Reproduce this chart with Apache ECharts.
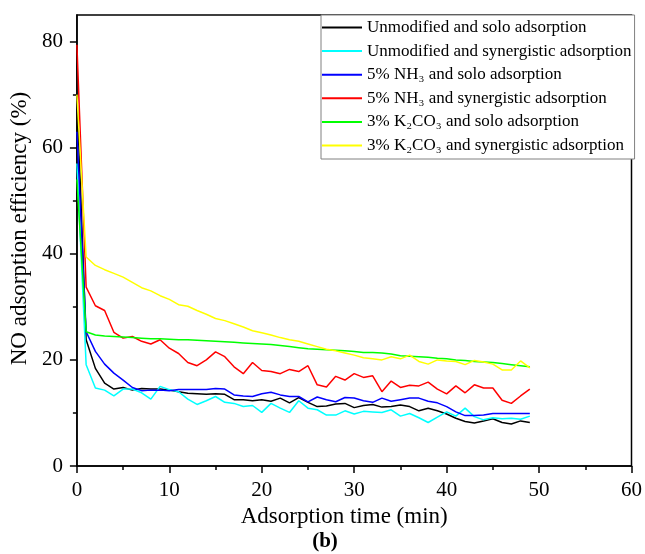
<!DOCTYPE html>
<html>
<head>
    <meta charset="utf-8">
    <title>NO adsorption</title>
    <script src="https://cdn.jsdelivr.net/npm/echarts@6/dist/echarts.min.js"></script>
    <style>
        html, body { margin: 0; padding: 0; background: #fff; }
    </style>
</head>
<body>
    <div id="main" style="width: 645px;height:554px;"></div>
    <script type="text/javascript">
        // 时间（min）
        var timeData = [0, 1, 2, 3, 4, 5, 6, 7, 8, 9,
            10, 11, 12, 13, 14, 15, 16, 17, 18, 19,
            20, 21, 22, 23, 24, 25, 26, 27, 28, 29,
            30, 31, 32, 33, 34, 35, 36, 37, 38, 39,
            40, 41, 42, 43, 44, 45, 46, 47, 48, 49];
        // 各组吸附效率（%）
        var unmodSolo = [70, 23.8, 18.4, 15.6, 14.5, 14.8, 14.3, 14.6, 14.5, 14.5,
            14.3, 14.0, 13.7, 13.6, 13.5, 13.6, 13.5, 12.5, 12.5, 12.3,
            12.5, 12.2, 12.8, 11.9, 12.9, 12.0, 11.2, 11.3, 11.7, 11.8,
            11.0, 11.4, 11.6, 11.1, 11.2, 11.5, 11.2, 10.4, 10.9, 10.4,
            9.8, 9.0, 8.4, 8.1, 8.5, 8.9, 8.2, 7.9, 8.5, 8.2];
        var unmodSyn = [57, 19.1, 14.7, 14.3, 13.2, 14.5, 14.5, 13.8, 12.6, 15.0,
            14.4, 14.0, 12.6, 11.6, 12.3, 13.1, 12.0, 11.8, 11.2, 11.4,
            10.1, 11.8, 10.9, 10.1, 12.3, 10.9, 10.6, 9.6, 9.6, 10.4,
            9.8, 10.3, 10.2, 10.1, 10.6, 9.4, 9.9, 9.1, 8.2, 9.2,
            10.2, 9.4, 10.9, 9.3, 8.7, 9.1, 8.9, 9.0, 8.8, 9.4];
        var nh3Solo = [63, 25.3, 21.6, 19.2, 17.5, 16.2, 14.8, 14.2, 14.3, 14.3,
            14.2, 14.4, 14.4, 14.4, 14.4, 14.6, 14.5, 13.4, 13.2, 13.1,
            13.6, 13.9, 13.4, 13.1, 13.1, 12.1, 13.0, 12.5, 12.1, 12.9,
            12.8, 12.3, 12.0, 12.8, 12.2, 12.5, 12.8, 12.8, 12.2, 11.9,
            11.2, 10.2, 9.5, 9.5, 9.6, 9.9, 9.9, 9.9, 9.9, 9.9];
        var nh3Syn = [79.4, 33.7, 30.2, 29.3, 25.2, 24.1, 24.4, 23.5, 23.0, 23.8,
            22.2, 21.2, 19.5, 18.9, 20.0, 21.5, 20.6, 18.7, 17.4, 19.5,
            18.0, 17.8, 17.4, 18.2, 17.8, 18.9, 15.3, 14.9, 16.9, 16.2,
            17.4, 16.7, 17.0, 14.0, 16.0, 14.8, 15.2, 15.1, 15.8, 14.5,
            13.6, 15.1, 13.8, 15.3, 14.7, 14.7, 12.4, 11.8, 13.2, 14.5];
        var k2co3Solo = [54, 25.3, 24.7, 24.5, 24.4, 24.3, 24.2, 24.1, 24.0, 24.0,
            23.9, 23.8, 23.8, 23.7, 23.6, 23.5, 23.4, 23.3, 23.2, 23.1,
            23.0, 22.9, 22.7, 22.5, 22.3, 22.1, 22.0, 21.9, 21.8, 21.7,
            21.6, 21.4, 21.4, 21.3, 21.1, 20.8, 20.7, 20.6, 20.5, 20.3,
            20.2, 20.0, 19.9, 19.7, 19.6, 19.5, 19.3, 19.1, 18.9, 18.7];
        var k2co3Syn = [70, 39.4, 37.8, 37.0, 36.3, 35.6, 34.6, 33.6, 33.0, 32.1,
            31.4, 30.4, 30.1, 29.3, 28.6, 27.8, 27.4, 26.8, 26.2, 25.5,
            25.1, 24.7, 24.2, 23.8, 23.5, 23.0, 22.5, 22.0, 21.7, 21.3,
            20.9, 20.4, 20.2, 20.0, 20.6, 20.2, 20.9, 19.7, 19.2, 20.0,
            19.8, 19.7, 19.1, 19.9, 19.6, 19.2, 18.1, 18.1, 19.8, 18.5];
        var seriesNames = [
            'Unmodified and solo adsorption',
            'Unmodified and synergistic adsorption',
            '5% NH\u2083 and solo adsorption',
            '5% NH\u2083 and synergistic adsorption',
            '3% K\u2082CO\u2083 and solo adsorption',
            '3% K\u2082CO\u2083 and synergistic adsorption'
        ];
        var seriesColors = ['#000000', '#00ffff', '#0000ff', '#ff0000', '#00ff00', '#ffff00'];
        var seriesValues = [unmodSolo, unmodSyn, nh3Solo, nh3Syn, k2co3Solo, k2co3Syn];
        // 刻度
        var yMajorTicks = [0, 20, 40, 60, 80];
        var yMinorTicks = [10, 30, 50, 70];

        var fontFamily = '"Liberation Serif", "Times New Roman", serif';

        // 组装 series
        var series = [];
        for (var s = 0; s < seriesNames.length; s++) {
            var pts = [];
            for (var i = 0; i < timeData.length; i++) {
                pts.push([timeData[i], seriesValues[s][i]]);
            }
            series.push({
                name: seriesNames[s],
                type: 'line',
                symbol: 'none',
                data: pts,
                lineStyle: { color: seriesColors[s], width: 1.5 },
                itemStyle: { color: seriesColors[s] }
            });
        }

        var chart = echarts.init(document.getElementById('main'));
        var option = {
            animation: false,
            backgroundColor: '#fff',
            title: {
                text: '(b)',
                left: 320,
                top: 526,
                textAlign: 'center',
                textStyle: { fontFamily: fontFamily, fontSize: 21, fontWeight: 'bold', color: '#000' }
            },
            legend: {
                orient: 'vertical',
                left: 321,
                top: 15,
                padding: [4, 3, 5, 1],
                icon: 'rect',
                itemWidth: 40,
                itemHeight: 2,
                itemGap: 6.6,
                backgroundColor: '#fff',
                borderColor: '#808080',
                borderWidth: 1,
                textStyle: { fontFamily: fontFamily, fontSize: 17, color: '#000', lineHeight: 17 },
                data: seriesNames
            },
            grid: {
                left: 76,
                right: 12,
                top: 15,
                bottom: 88,
                show: true,
                borderColor: '#000',
                borderWidth: 1.5
            },
            xAxis: {
                type: 'value',
                min: 0,
                max: 60,
                interval: 10,
                name: 'Adsorption time (min)',
                nameLocation: 'middle',
                nameGap: 37,
                nameTextStyle: { fontFamily: fontFamily, fontSize: 23, color: '#000', padding: [0, 20, 0, 0] },
                axisLine: { lineStyle: { color: '#000', width: 1.5 } },
                axisTick: { length: 7, lineStyle: { color: '#000', width: 1.5 } },
                minorTick: { show: true, splitNumber: 2, length: 4, lineStyle: { color: '#000', width: 1.5 } },
                axisLabel: { fontFamily: fontFamily, fontSize: 21, color: '#000', margin: 14 },
                splitLine: { show: false }
            },
            yAxis: [{
                type: 'value',
                min: 0,
                max: 85,
                interval: 20,
                name: 'NO adsorption efficiency (%)',
                nameLocation: 'middle',
                nameGap: 40,
                nameTextStyle: { fontFamily: fontFamily, fontSize: 23, color: '#000', padding: [0, 0, 0, 24] },
                axisLine: { lineStyle: { color: '#000', width: 1.5 } },
                axisTick: { length: 7, customValues: yMajorTicks, lineStyle: { color: '#000', width: 1.5 } },
                axisLabel: { fontFamily: fontFamily, fontSize: 21, color: '#000', margin: 14,
                    customValues: yMajorTicks },
                splitLine: { show: false }
            }, {
                // 次刻度
                type: 'value',
                position: 'left',
                min: 0,
                max: 85,
                axisLine: { show: false },
                axisTick: { length: 4, customValues: yMinorTicks, lineStyle: { color: '#000', width: 1.5 } },
                axisLabel: { show: false },
                splitLine: { show: false }
            }],
            series: series
        };
        chart.setOption(option);
    </script>
</body>
</html>
